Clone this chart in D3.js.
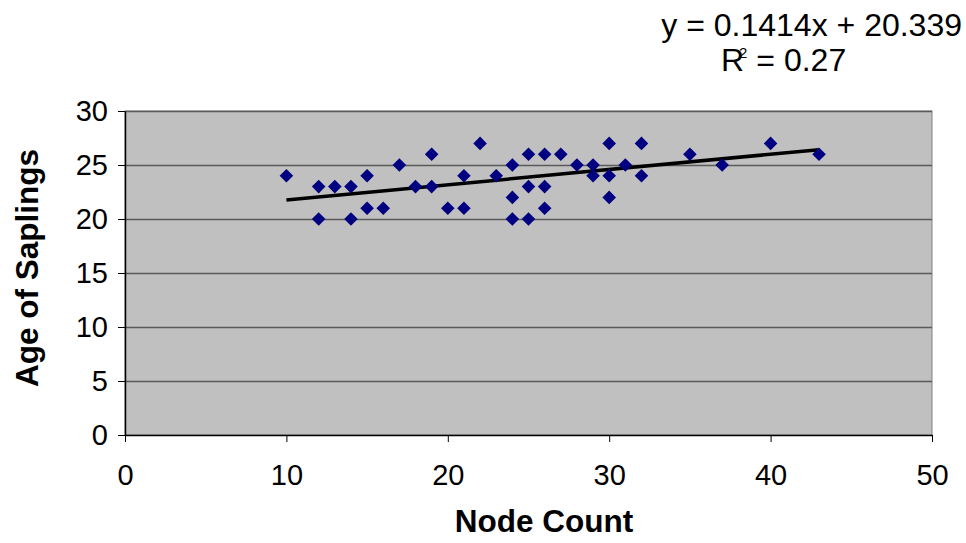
<!DOCTYPE html>
<html>
<head>
<meta charset="utf-8">
<script src="https://cdn.jsdelivr.net/npm/d3@7"></script>
<style>
  body { margin: 0; background: #fff; }
  text { font-family: "Liberation Sans", Arial, sans-serif; }
</style>
</head>
<body>
<div id="chart"></div>
<script>
        var width = 966;
        var height = 543;

        // node count vs age of saplings
        var nodeCount = [10, 12, 12, 13, 14, 14, 15, 15, 16, 17, 18, 19, 19, 20, 21, 21, 22, 23, 24, 24, 24,
                         25, 25, 25, 26, 26, 26, 27, 28, 29, 29, 30, 30, 30, 31, 32, 32, 35, 37, 40, 43];
        var saplingAge = [24, 23, 20, 23, 23, 20, 24, 21, 21, 25, 23, 26, 23, 21, 24, 21, 27, 24, 25, 22, 20,
                          26, 23, 20, 26, 23, 21, 26, 25, 25, 24, 27, 24, 22, 25, 27, 24, 26, 25, 27, 26];
        var slope = 0.1414;
        var intercept = 20.339;
        var xTicks = [0, 10, 20, 30, 40, 50];
        var yTicks = [0, 5, 10, 15, 20, 25, 30];

        var svg = d3.select("#chart")
                    .append("svg")
                    .attr("width", width)
                    .attr("height", height);

        // note: "top" clashes with window.top, so plot* names
        var plotLeft = 125, plotRight = 932, plotTop = 111, plotBottom = 435;

        var x = d3.scaleLinear().domain([0, 50]).range([plotLeft, plotRight]);
        var y = d3.scaleLinear().domain([0, 30]).range([plotBottom, plotTop]);

        // plot area
        svg.append("rect")
            .attr("x", plotLeft).attr("y", plotTop)
            .attr("width", plotRight - plotLeft).attr("height", plotBottom - plotTop)
            .attr("fill", "#c0c0c0")
            .attr("stroke", "#808080")
            .attr("stroke-width", 1);

        // gridlines
        svg.append("g").selectAll("line")
            .data(yTicks.filter(function(d){ return d > 0; }))
            .enter().append("line")
            .attr("x1", plotLeft).attr("x2", plotRight)
            .attr("y1", function(d){ return y(d) + 0.5; })
            .attr("y2", function(d){ return y(d) + 0.5; })
            .attr("stroke", "#5a5a5a")
            .attr("stroke-width", 1.5);

        var xAxis = svg.append("g")
            .attr("transform", "translate(0," + plotBottom + ")")
            .call(d3.axisBottom(x).tickValues(xTicks).tickSize(7).tickSizeOuter(0).tickPadding(22));

        var yAxis = svg.append("g")
            .attr("transform", "translate(" + plotLeft + ",0)")
            .call(d3.axisLeft(y).tickValues(yTicks).tickSize(7).tickSizeOuter(0).tickPadding(10));

        [xAxis, yAxis].forEach(function(a){
            a.attr("font-size", 29).attr("font-family", "'Liberation Sans', Arial, sans-serif");
            a.select(".domain").attr("stroke", "#000").attr("stroke-width", 1.5);
            a.selectAll(".tick line").attr("stroke", "#000");
            a.selectAll(".tick text").attr("fill", "#000");
        });

        // trendline
        var xMin = d3.min(nodeCount), xMax = d3.max(nodeCount);
        svg.append("line")
            .attr("x1", x(xMin)).attr("y1", y(slope * xMin + intercept))
            .attr("x2", x(xMax)).attr("y2", y(slope * xMax + intercept))
            .attr("stroke", "#000")
            .attr("stroke-width", 3.5);

        // points
        var diamond = d3.symbol().type(d3.symbolSquare).size(92);
        svg.append("g").selectAll("path")
            .data(nodeCount)
            .enter().append("path")
            .attr("d", diamond)
            .attr("transform", function(d, i){
                return "translate(" + x(d) + "," + y(saplingAge[i]) + ") rotate(45)";
            })
            .attr("fill", "#000080");

        // axis titles
        svg.append("text")
            .attr("x", 544)
            .attr("y", 532)
            .attr("text-anchor", "middle")
            .style("font-size", "31.5px")
            .style("font-weight", "bold")
            .text("Node Count");

        svg.append("text")
            .attr("transform", "translate(38,268) rotate(-90)")
            .attr("text-anchor", "middle")
            .style("font-size", "31.5px")
            .style("font-weight", "bold")
            .text("Age of Saplings");

        // equation label
        svg.append("text")
            .attr("x", 962)
            .attr("y", 36)
            .attr("text-anchor", "end")
            .style("font-size", "32px")
            .text("y = " + slope + "x + " + intercept);

        var r2 = svg.append("text")
            .attr("x", 721)
            .attr("y", 71)
            .style("font-size", "32px");
        r2.append("tspan").text("R");
        r2.append("tspan").attr("dx", -5).attr("dy", -13).style("font-size", "15px").text("2");
        r2.append("tspan").attr("dy", 13).text(" = 0.27");
</script>
</body>
</html>
